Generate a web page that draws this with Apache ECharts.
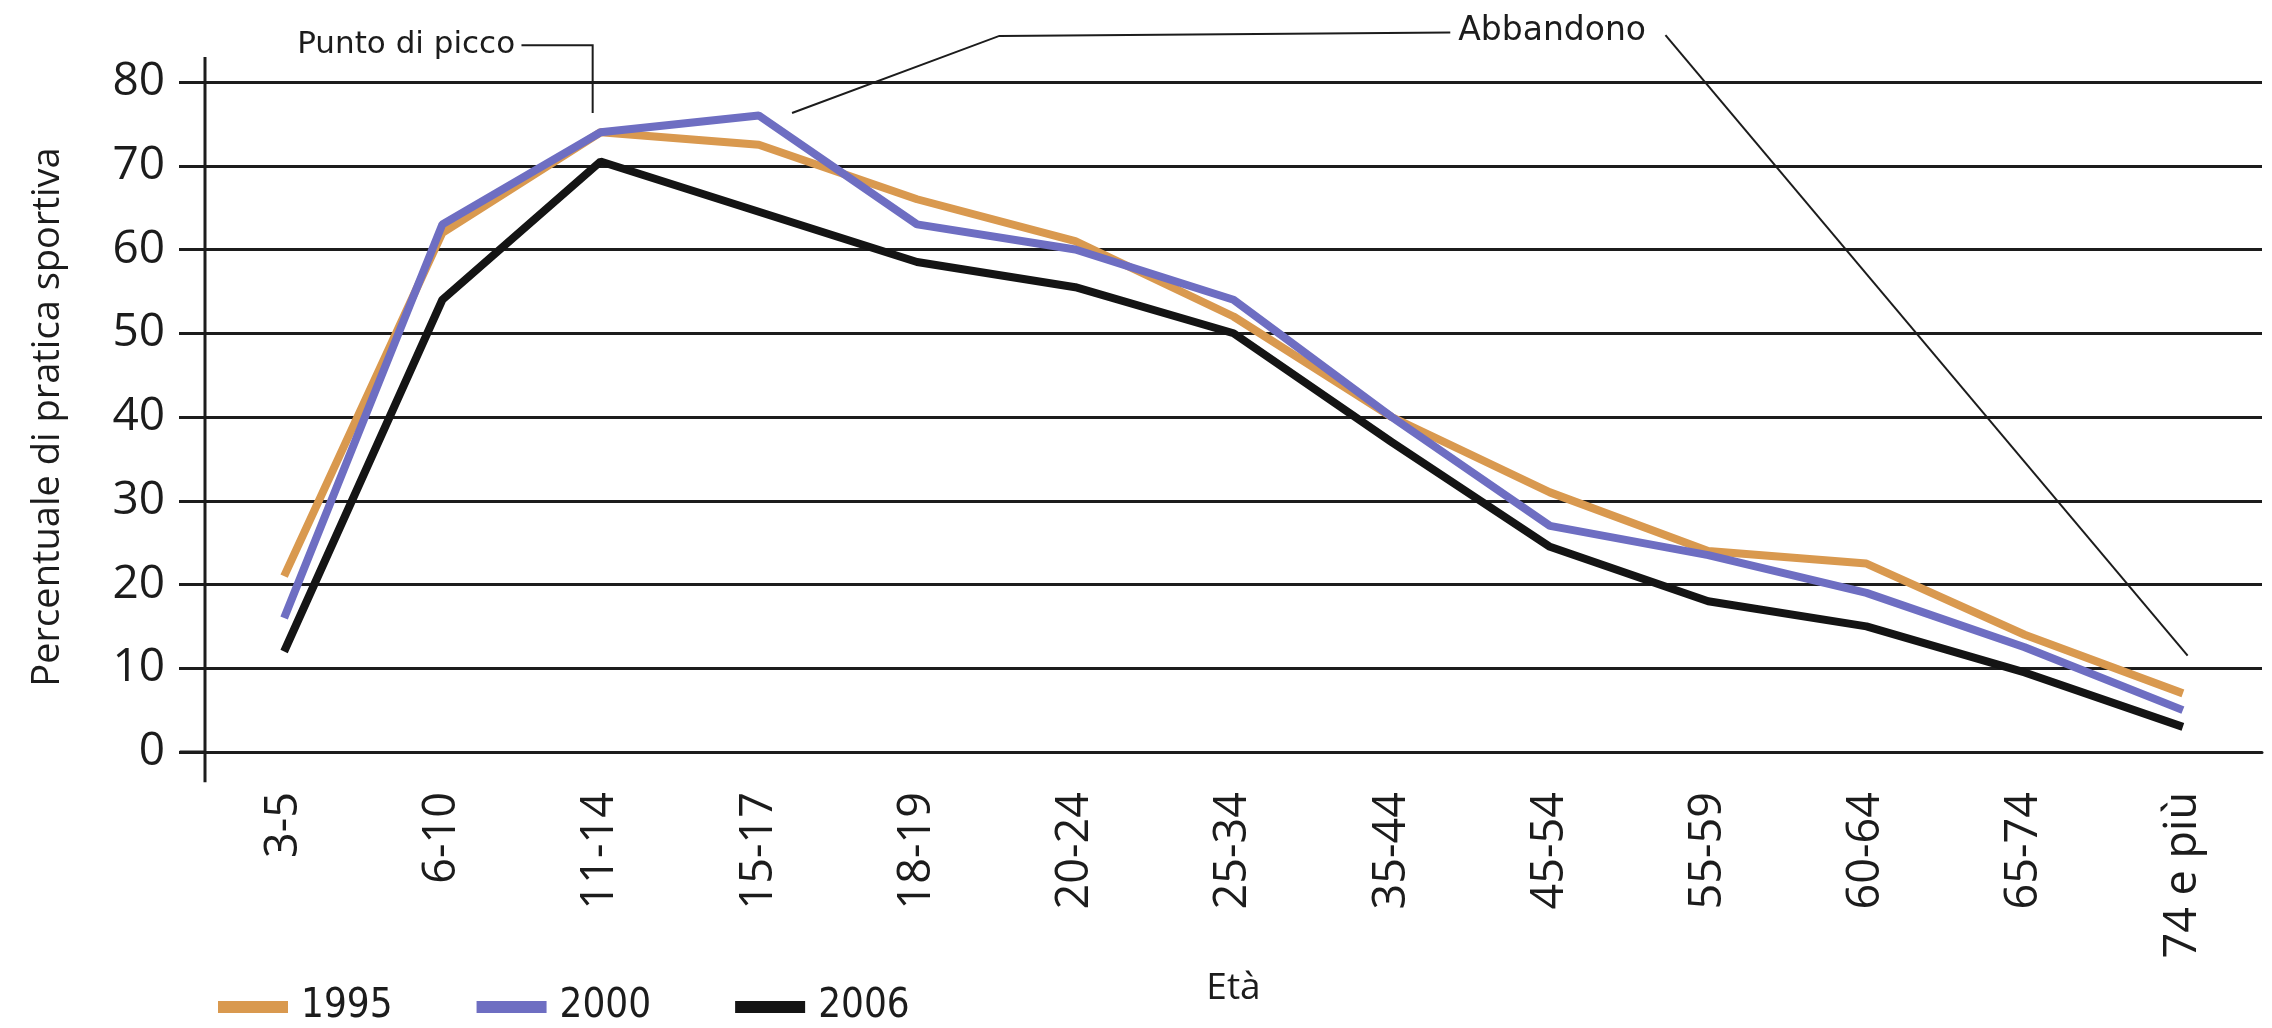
<!DOCTYPE html>
<html>
<head>
<meta charset="utf-8">
<script src="https://cdn.jsdelivr.net/npm/echarts@6/dist/echarts.min.js"></script>
<style>
html,body{margin:0;padding:0;background:#fff;}
#c{width:2272px;height:1028px;}
</style>
</head>
<body>
<div id="c"></div>
<script>
const categories = ['3-5','6-10','11-14','15-17','18-19','20-24','25-34','35-44','45-54','55-59','60-64','65-74','74 e più'];
const values1995 = [21, 62, 74, 72.5, 66, 61, 52, 40, 31, 24, 22.5, 14, 7];
const values2000 = [16, 63, 74, 76, 63, 60, 54, 40, 27, 23.5, 19, 12.5, 5];
const values2006 = [12, 54, 70.5, 64.5, 58.5, 55.5, 50, 37, 24.5, 18, 15, 9.5, 3];
const yTicks = [0, 10, 20, 30, 40, 50, 60, 70, 80];
const seriesNames = ['1995', '2000', '2006'];

const condensed = '"DejaVu Sans Condensed","Liberation Sans Narrow","Noto Sans",sans-serif';
const sans = '"Open Sans","Noto Sans",sans-serif';
const wide = '"DejaVu Sans","Noto Sans",sans-serif';
const ink = '#1c1c1c';

const chart = echarts.init(document.getElementById('c'), null, {renderer: 'canvas'});
const option = {
  backgroundColor: '#ffffff',
  animation: false,
  grid: {left: 205, right: 10, top: 82, bottom: 276, containLabel: false},
  legend: {
    left: 213, top: 982,
    itemWidth: 70, itemHeight: 12, itemGap: 84,
    icon: 'rect',
    textStyle: {fontFamily: condensed, fontSize: 40, color: ink, padding: [0, 0, 0, 8]},
    data: seriesNames
  },
  xAxis: {
    type: 'category',
    data: categories,
    boundaryGap: true,
    name: 'Età',
    nameLocation: 'middle',
    nameGap: 218,
    nameTextStyle: {fontFamily: sans, fontSize: 37, color: ink},
    axisLine: {lineStyle: {color: ink, width: 3}},
    axisTick: {length: 25, lineStyle: {color: ink, width: 3}},
    axisLabel: {rotate: 90, margin: 40, fontFamily: sans, fontSize: 45, color: ink}
  },
  yAxis: {
    type: 'value',
    min: yTicks[0], max: yTicks[yTicks.length - 1], interval: 10,
    name: 'Percentuale di pratica sportiva',
    nameLocation: 'middle',
    nameGap: 138,
    nameTextStyle: {fontFamily: sans, fontSize: 38, color: ink},
    axisLine: {show: false},
    axisTick: {show: true, length: 26, lineStyle: {color: ink, width: 3}},
    axisLabel: {margin: 40, fontFamily: sans, fontSize: 46, color: ink},
    splitLine: {lineStyle: {color: ink, width: 3}}
  },
  color: ['#d9994f', '#6e6ec2', '#141414'],
  series: [
    {name: seriesNames[0], type: 'line', data: values1995, symbol: 'none', lineStyle: {width: 8, color: '#d9994f'}, z: 3},
    {name: seriesNames[1], type: 'line', data: values2000, symbol: 'none', lineStyle: {width: 8, color: '#6e6ec2'}, z: 4},
    {name: seriesNames[2], type: 'line', data: values2006, symbol: 'none', lineStyle: {width: 8, color: '#141414'}, z: 5}
  ]
};
chart.setOption(option);

// annotation helpers anchored to data space
function px(i, v) {
  const a = chart.convertToPixel({xAxisIndex: 0, yAxisIndex: 0}, [0, v]);
  const b = chart.convertToPixel({xAxisIndex: 0, yAxisIndex: 0}, [1, v]);
  return [a[0] + (b[0] - a[0]) * i, a[1]];
}
function poly(points, w) {
  return {type: 'polyline', shape: {points: points.map(p => px(p[0], p[1]))},
          style: {stroke: ink, lineWidth: w || 2, fill: null}, z: 10};
}
const axisBottom = px(-0.5, -3.6), axisTop = px(-0.5, 83);
const zeroLeft = px(-0.66, 0);
const pTxt = px(1.46, 84.4);
const aTxt = px(7.42, 86.0);
chart.setOption({
  graphic: [
    {type: 'line', shape: {x1: axisBottom[0], y1: axisBottom[1], x2: axisTop[0], y2: axisTop[1]},
     style: {stroke: ink, lineWidth: 3}, z: 10},
    {type: 'line', shape: {x1: zeroLeft[0], y1: zeroLeft[1], x2: axisBottom[0], y2: zeroLeft[1]},
     style: {stroke: ink, lineWidth: 3}, z: 10},
    poly([[1.5, 84.4], [1.95, 84.4], [1.95, 76.3]]),
    poly([[7.37, 85.9], [4.52, 85.5], [3.21, 76.3]]),
    poly([[8.73, 85.6], [12.03, 11.5]]),
    {type: 'text', x: pTxt[0], y: pTxt[1], z: 10,
     style: {text: 'Punto di picco', fontFamily: wide, fontSize: 31, fill: ink, align: 'right', verticalAlign: 'middle'}},
    {type: 'text', x: aTxt[0], y: aTxt[1], z: 10,
     style: {text: 'Abbandono', fontFamily: wide, fontSize: 33, fill: ink, align: 'left', verticalAlign: 'middle'}}
  ]
});
</script>
</body>
</html>
